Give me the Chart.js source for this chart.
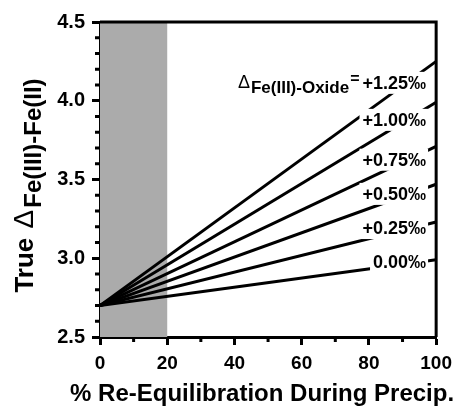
<!DOCTYPE html>
<html lang="en">
<head>
<meta charset="UTF-8" />
<title>True Fractionation vs Re-Equilibration</title>
<style>
  body, html { margin: 0; padding: 0; background: #fff; }
  #wrap { width: 459px; height: 410px; }
</style>
</head>
<body>
<div id="wrap"><canvas id="chart" width="459" height="410"></canvas></div>

<script src="https://cdn.jsdelivr.net/npm/chart.js"></script>
<script>
  // data
  const xValues = [0, 100];
  const series = [
    [2.70, 2.99],
    [2.70, 3.23],
    [2.70, 3.47],
    [2.70, 3.71],
    [2.70, 3.99],
    [2.70, 4.25]
  ];
  const seriesLabels = ['0.00‰', '+0.25‰', '+0.50‰', '+0.75‰', '+1.00‰', '+1.25‰'];
  const shadedRange = [0, 20];
  const xTicks = [0, 20, 40, 60, 80, 100];
  const yTicks = [2.5, 3.0, 3.5, 4.0, 4.5];
  const xMinorTicks = [10, 30, 50, 70, 90];
  const yMinorTicks = [2.6, 2.7, 2.8, 2.9, 3.1, 3.2, 3.3, 3.4, 3.6, 3.7, 3.8, 3.9, 4.1, 4.2, 4.3, 4.4];
  const xTitle = '% Re-Equilibration During Precip.';

  const FAM = "'Liberation Sans', Arial, sans-serif";

  const shadePlugin = {
    id: 'shade',
    beforeDatasetsDraw(chart) {
      const { ctx, chartArea: a, scales: { x } } = chart;
      const l = x.getPixelForValue(shadedRange[0]);
      const r = x.getPixelForValue(shadedRange[1]);
      ctx.save();
      ctx.fillStyle = '#ababab';
      ctx.fillRect(l, a.top, r - l, a.bottom - a.top);
      ctx.restore();
    }
  };

  const labelPlugin = {
    id: 'lineLabels',
    afterDatasetsDraw(chart) {
      const { ctx, chartArea: a, scales: { x, y } } = chart;
      ctx.save();
      // top and right frame
      ctx.strokeStyle = '#000';
      ctx.lineWidth = 3;
      ctx.beginPath();
      ctx.moveTo(a.left, a.top);
      ctx.lineTo(a.right, a.top);
      ctx.lineTo(a.right, a.bottom);
      ctx.stroke();

      ctx.font = 'bold 18px ' + FAM;
      const right = x.getPixelForValue(97);
      const boxes = series.map((s, i) => {
        const w = ctx.measureText(seriesLabels[i]).width;
        const xv = x.getValueForPixel(right - w * 0.35);
        const yv = s[0] + (s[1] - s[0]) * (xv - xValues[0]) / (xValues[1] - xValues[0]);
        return { w, cy: y.getPixelForValue(yv) - 2 };
      });
      ctx.fillStyle = '#fff';
      boxes.forEach(b => ctx.fillRect(right - b.w - 3, b.cy - 11, b.w + 5, 22));

      ctx.fillStyle = '#000';
      ctx.textAlign = 'right';
      ctx.textBaseline = 'alphabetic';
      boxes.forEach((b, i) => ctx.fillText(seriesLabels[i], right, b.cy + 6));

      // prefix on the top label
      const top = boxes[boxes.length - 1];
      let px = right - top.w - 3;
      ctx.font = 'bold 16px ' + FAM;
      ctx.fillText('=', px, top.cy + 1);
      px -= ctx.measureText('=').width + 1;
      ctx.font = 'bold 17px ' + FAM;
      ctx.fillText('Fe(III)-Oxide', px, top.cy + 10);
      px -= ctx.measureText('Fe(III)-Oxide').width + 1;
      ctx.font = '18px ' + FAM;
      ctx.fillText('Δ', px, top.cy + 5);
      ctx.restore();
    }
  };

  const extrasPlugin = {
    id: 'extras',
    afterDraw(chart) {
      const { ctx, chartArea: a, scales: { x, y } } = chart;
      ctx.save();
      ctx.strokeStyle = '#000';
      ctx.lineWidth = 3;
      ctx.beginPath();
      xMinorTicks.forEach(v => {
        const p = x.getPixelForValue(v);
        ctx.moveTo(p, a.bottom);
        ctx.lineTo(p, a.bottom + 5);
      });
      yMinorTicks.forEach(v => {
        const p = y.getPixelForValue(v);
        ctx.moveTo(a.left, p);
        ctx.lineTo(a.left - 5, p);
      });
      ctx.stroke();

      // x axis title (drawn here so it is not squeezed to the axis width)
      ctx.fillStyle = '#000';
      ctx.font = 'bold 24px ' + FAM;
      ctx.textAlign = 'center';
      ctx.textBaseline = 'alphabetic';
      ctx.fillText(xTitle, (a.left + a.right) / 2 - 6, 401);

      // y axis title with subscript
      const parts = [
        { t: 'True ', f: 'bold 26px ' + FAM, dy: 0 },
        { t: 'Δ', f: '28px ' + FAM, dy: 0 },
        { t: 'Fe(III)-Fe(II)', f: 'bold 24px ' + FAM, dy: 8 }
      ];
      let total = 0;
      parts.forEach(p => { ctx.font = p.f; p.w = ctx.measureText(p.t).width; total += p.w + 2; });
      ctx.translate(33, (a.top + a.bottom) / 2 + 5);
      ctx.rotate(-Math.PI / 2);
      ctx.textAlign = 'left';
      let cx = -total / 2;
      parts.forEach(p => {
        ctx.font = p.f;
        ctx.fillText(p.t, cx, p.dy);
        cx += p.w + 2;
      });
      ctx.restore();
    }
  };

  new Chart(document.getElementById('chart').getContext('2d'), {
    type: 'scatter',
    data: {
      datasets: series.map((s, i) => ({
        label: seriesLabels[i],
        data: xValues.map((xv, j) => ({ x: xv, y: s[j] })),
        showLine: true,
        borderColor: '#000',
        borderWidth: 3,
        pointRadius: 0
      }))
    },
    options: {
      responsive: false,
      animation: false,
      layout: { padding: { top: 22, right: 22, left: 0, bottom: 0 } },
      plugins: { legend: { display: false }, tooltip: { enabled: false } },
      scales: {
        x: {
          type: 'linear',
          min: 0,
          max: 100,
          afterBuildTicks: s => { s.ticks = xTicks.map(v => ({ value: v })); },
          afterFit: s => { s.height = 73; },
          grid: { drawOnChartArea: false, tickLength: 8, tickWidth: 3, tickColor: '#000' },
          border: { display: true, width: 3, color: '#000' },
          ticks: { color: '#000', padding: 7, font: { family: FAM, size: 19, weight: 'bold' } }
        },
        y: {
          type: 'linear',
          min: 2.5,
          max: 4.5,
          afterBuildTicks: s => { s.ticks = yTicks.map(v => ({ value: v })); },
          afterFit: s => { s.width = 100; },
          grid: { drawOnChartArea: false, tickLength: 8, tickWidth: 3, tickColor: '#000' },
          border: { display: true, width: 3, color: '#000' },
          ticks: {
            color: '#000',
            padding: 7,
            font: { family: FAM, size: 20, weight: 'bold' },
            callback: v => Number(v).toFixed(1)
          }
        }
      }
    },
    plugins: [shadePlugin, labelPlugin, extrasPlugin]
  });
</script>
</body>
</html>
